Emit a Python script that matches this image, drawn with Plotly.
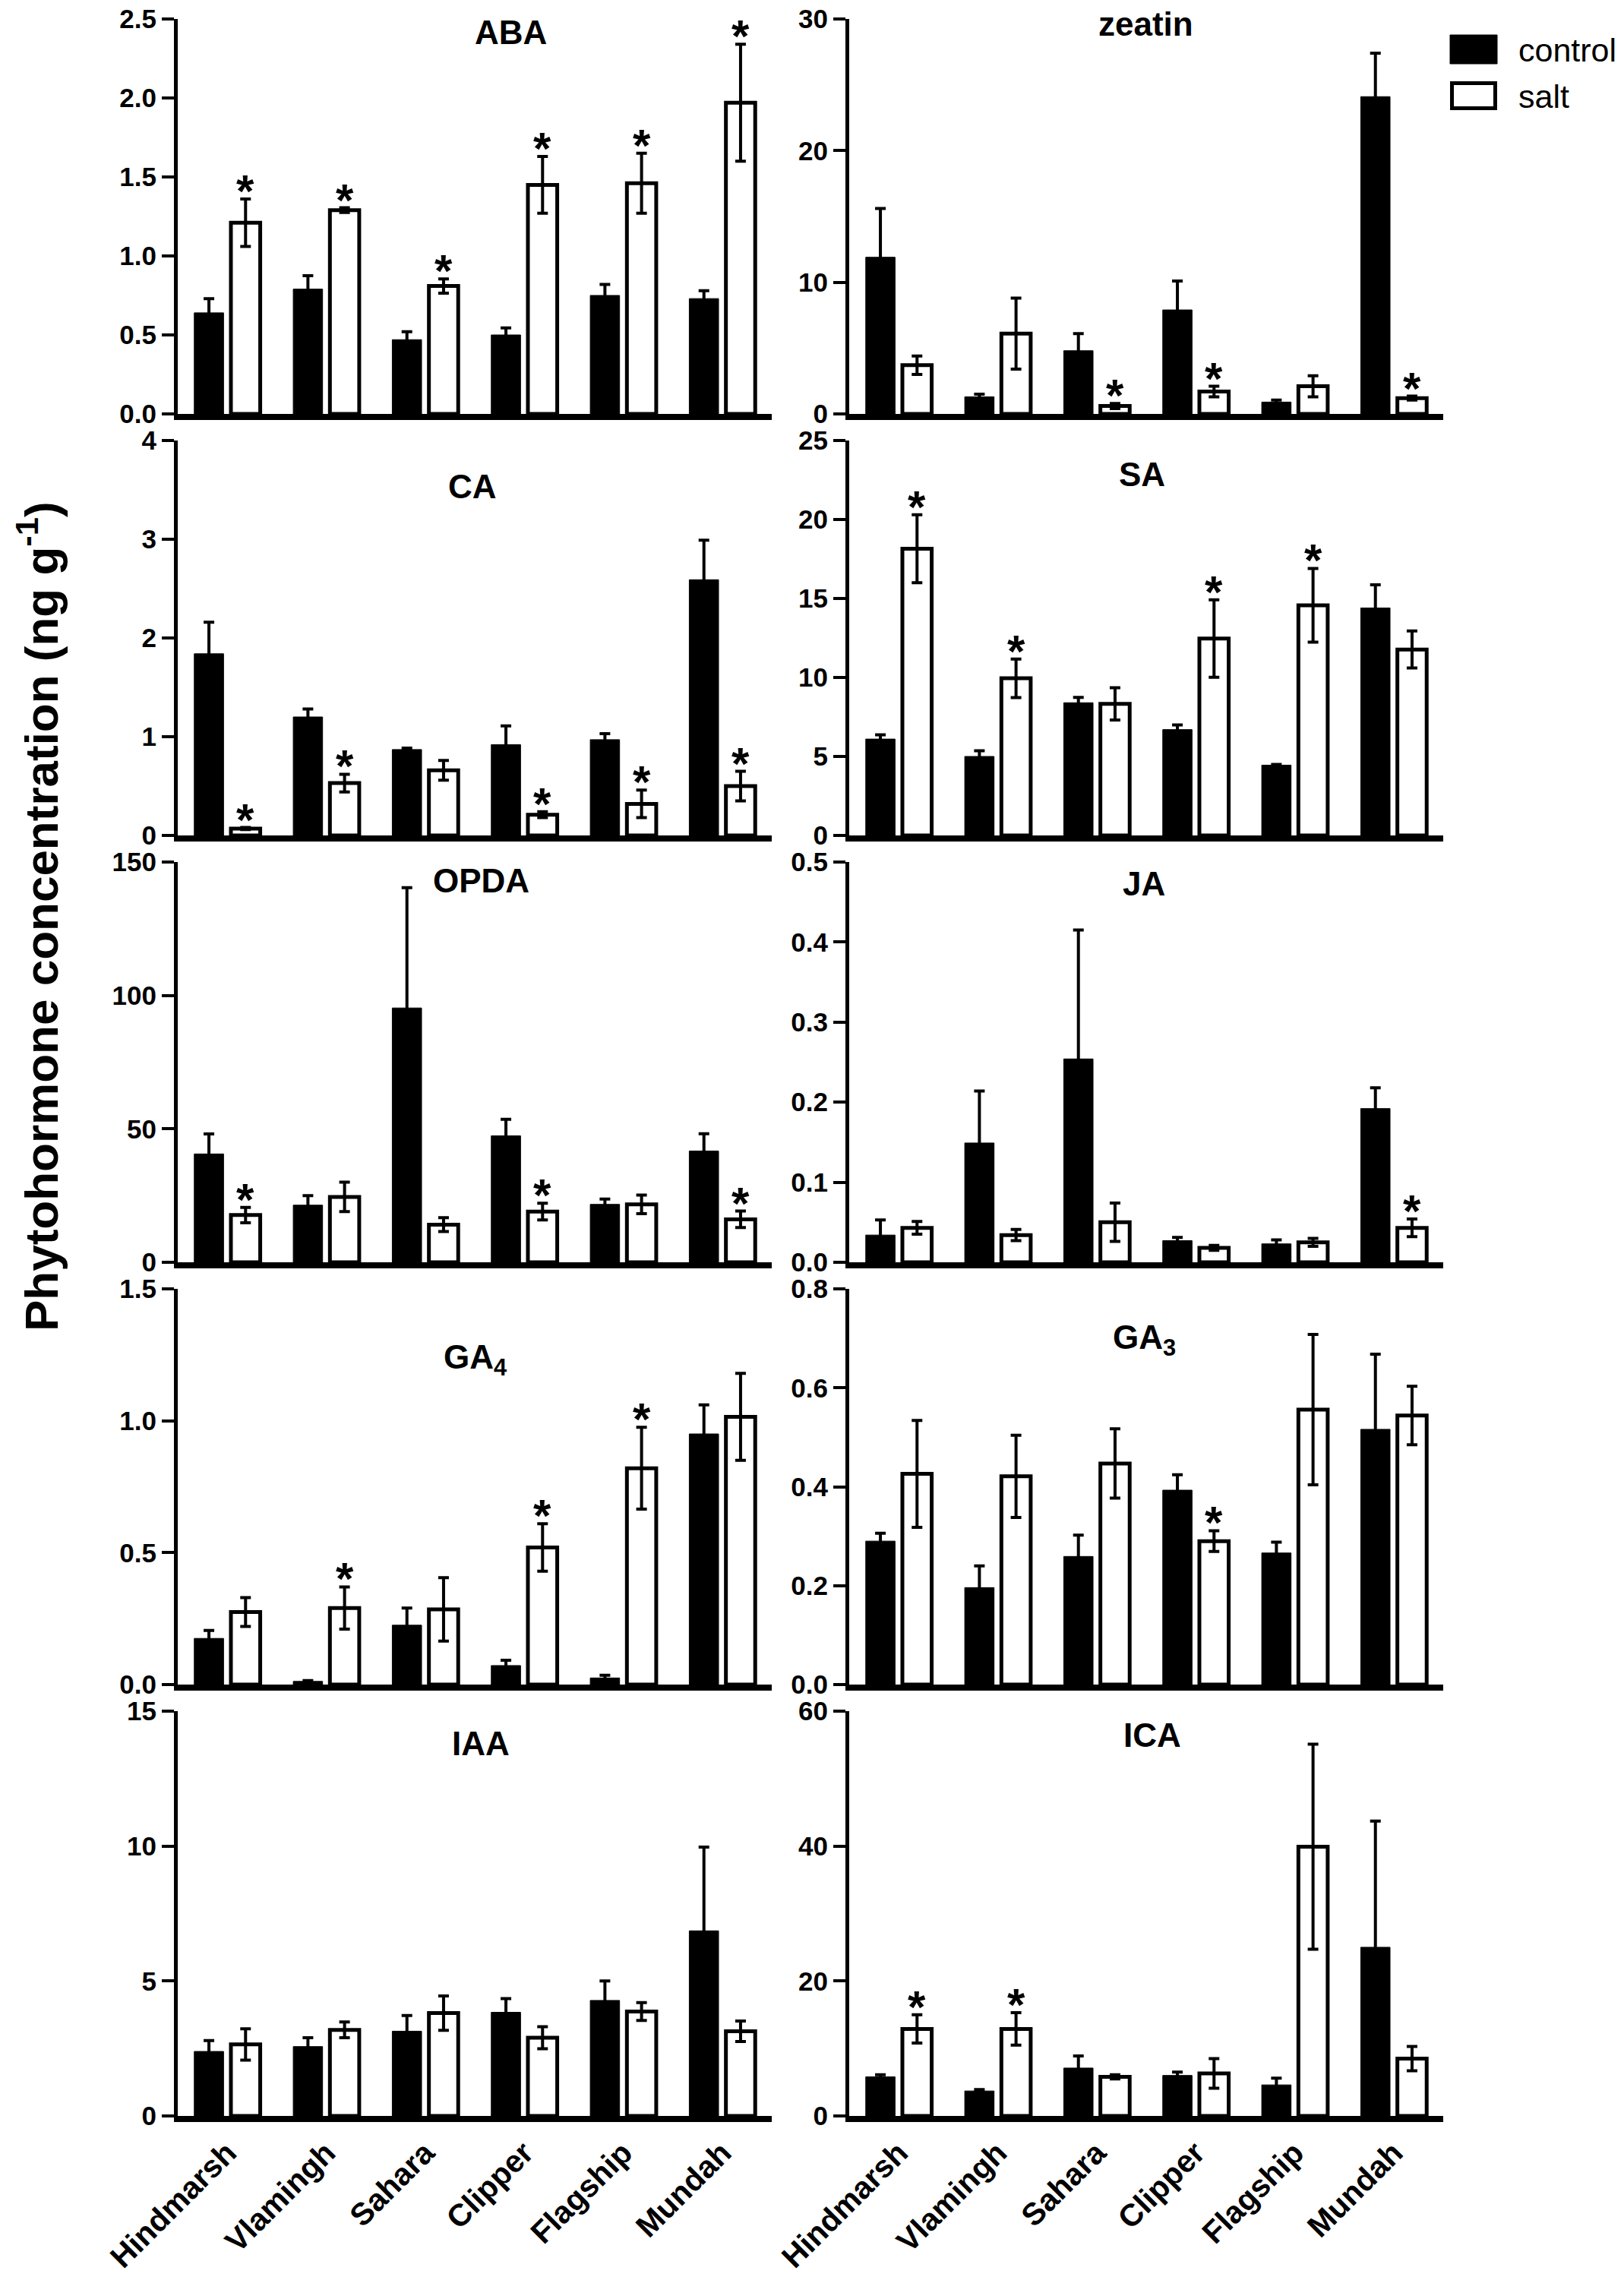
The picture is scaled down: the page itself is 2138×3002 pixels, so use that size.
import plotly.graph_objects as go

W, H = 2138, 3002

cultivars = ["Hindmarsh", "Vlamingh", "Sahara", "Clipper", "Flagship", "Mundah"]

# ---- data (mean, error) ----
aba_control = [0.64, 0.79, 0.47, 0.50, 0.75, 0.73]
aba_control_err = [0.09, 0.085, 0.05, 0.045, 0.07, 0.05]
aba_salt = [1.21, 1.29, 0.81, 1.45, 1.46, 1.97]
aba_salt_err = [0.15, 0.015, 0.045, 0.18, 0.19, 0.37]
aba_sig = [1, 1, 1, 1, 1, 1]

zeatin_control = [11.9, 1.3, 4.8, 7.9, 0.9, 24.1]
zeatin_control_err = [3.7, 0.2, 1.3, 2.2, 0.15, 3.3]
zeatin_salt = [3.7, 6.1, 0.6, 1.7, 2.1, 1.2]
zeatin_salt_err = [0.7, 2.7, 0.2, 0.4, 0.8, 0.15]
zeatin_sig = [0, 0, 1, 1, 0, 1]

ca_control = [1.84, 1.20, 0.87, 0.92, 0.97, 2.59]
ca_control_err = [0.32, 0.08, 0.015, 0.19, 0.06, 0.40]
ca_salt = [0.07, 0.53, 0.66, 0.21, 0.32, 0.50]
ca_salt_err = [0.01, 0.09, 0.10, 0.03, 0.14, 0.15]
ca_sig = [1, 1, 0, 1, 1, 1]

sa_control = [6.1, 5.0, 8.4, 6.7, 4.45, 14.4]
sa_control_err = [0.27, 0.36, 0.34, 0.3, 0.05, 1.47]
sa_salt = [18.15, 9.95, 8.33, 12.46, 14.57, 11.77]
sa_salt_err = [2.15, 1.22, 1.02, 2.45, 2.33, 1.17]
sa_sig = [1, 1, 0, 1, 1, 0]

opda_control = [40.6, 21.4, 95.3, 47.4, 21.7, 41.7]
opda_control_err = [7.5, 3.6, 45.1, 6.2, 2.0, 6.5]
opda_salt = [17.7, 24.5, 14.1, 19.0, 21.7, 16.1]
opda_salt_err = [2.9, 5.5, 2.6, 3.1, 3.5, 3.1]
opda_sig = [1, 0, 0, 1, 0, 1]

ja_control = [0.034, 0.149, 0.254, 0.027, 0.023, 0.192]
ja_control_err = [0.019, 0.065, 0.161, 0.004, 0.005, 0.026]
ja_salt = [0.043, 0.034, 0.050, 0.018, 0.025, 0.043]
ja_salt_err = [0.008, 0.007, 0.024, 0.003, 0.005, 0.011]
ja_sig = [0, 0, 0, 0, 0, 1]

ga4_control = [0.175, 0.012, 0.225, 0.072, 0.025, 0.95]
ga4_control_err = [0.03, 0.003, 0.065, 0.02, 0.01, 0.11]
ga4_salt = [0.275, 0.29, 0.285, 0.52, 0.82, 1.015]
ga4_salt_err = [0.055, 0.08, 0.12, 0.09, 0.155, 0.165]
ga4_sig = [0, 1, 0, 1, 1, 0]

ga3_control = [0.29, 0.196, 0.259, 0.393, 0.266, 0.516]
ga3_control_err = [0.016, 0.044, 0.043, 0.031, 0.022, 0.152]
ga3_salt = [0.426, 0.421, 0.447, 0.29, 0.556, 0.544]
ga3_salt_err = [0.108, 0.083, 0.07, 0.021, 0.152, 0.059]
ga3_sig = [0, 0, 0, 1, 0, 0]

iaa_control = [2.39, 2.57, 3.14, 3.84, 4.28, 6.86]
iaa_control_err = [0.4, 0.33, 0.58, 0.51, 0.72, 3.1]
iaa_salt = [2.65, 3.19, 3.81, 2.90, 3.87, 3.14]
iaa_salt_err = [0.58, 0.29, 0.64, 0.41, 0.33, 0.38]
iaa_sig = [0, 0, 0, 0, 0, 0]

ica_control = [5.8, 3.7, 7.1, 6.0, 4.6, 25.0]
ica_control_err = [0.3, 0.2, 1.8, 0.5, 1.0, 18.7]
ica_salt = [12.9, 12.9, 5.8, 6.3, 39.9, 8.5]
ica_salt_err = [2.1, 2.4, 0.3, 2.2, 15.2, 1.8]
ica_sig = [1, 1, 0, 0, 0, 0]

titles = ["ABA", "zeatin", "CA", "SA", "OPDA", "JA",
          "GA<sub>4</sub>", "GA<sub>3</sub>", "IAA", "ICA"]
y_max = [2.5, 30, 4, 25, 150, 0.5, 1.5, 0.8, 15, 60]
y_dtick = [0.5, 10, 1, 5, 50, 0.1, 0.5, 0.2, 5, 20]
y_fmt = [".1f", "d", "d", "d", "d", ".1f", ".1f", ".1f", "d", "d"]

panels = [
    (aba_control, aba_control_err, aba_salt, aba_salt_err, aba_sig),
    (zeatin_control, zeatin_control_err, zeatin_salt, zeatin_salt_err, zeatin_sig),
    (ca_control, ca_control_err, ca_salt, ca_salt_err, ca_sig),
    (sa_control, sa_control_err, sa_salt, sa_salt_err, sa_sig),
    (opda_control, opda_control_err, opda_salt, opda_salt_err, opda_sig),
    (ja_control, ja_control_err, ja_salt, ja_salt_err, ja_sig),
    (ga4_control, ga4_control_err, ga4_salt, ga4_salt_err, ga4_sig),
    (ga3_control, ga3_control_err, ga3_salt, ga3_salt_err, ga3_sig),
    (iaa_control, iaa_control_err, iaa_salt, iaa_salt_err, iaa_sig),
    (ica_control, ica_control_err, ica_salt, ica_salt_err, ica_sig),
]

# ---- layout geometry (pixels) ----
col_x = [(234, 1016), (1118, 1900)]
row_y = [(25, 545), (580, 1100), (1135, 1662), (1697, 2218), (2253, 2786)]
title_pos = [(672, 42), (1508, 31), (622, 640), (1503, 625), (633, 1159),
             (1506, 1163), (625, 1790), (1506, 1764), (633, 2295), (1517, 2284)]

BARGAP = 0.26
cat_px = (col_x[0][1] - col_x[0][0]) / len(cultivars)
salt_shift = 0.25 * (1 - BARGAP) * cat_px

FAM = "Liberation Sans, Arial, sans-serif"
TICKFONT = dict(family=FAM, size=35, color="black", weight="bold")

fig = go.Figure()
annotations = []
layout_axes = {}

for k, (ctl, ctl_e, slt, slt_e, sig) in enumerate(panels):
    n = k + 1
    r, c = divmod(k, 2)
    xs = "x" if n == 1 else f"x{n}"
    ys = "y" if n == 1 else f"y{n}"
    fig.add_trace(go.Bar(
        x=cultivars, y=ctl, name="control", xaxis=xs, yaxis=ys,
        marker=dict(color="black", line=dict(color="black", width=1)),
        error_y=dict(type="data", array=ctl_e, visible=True, color="black",
                     thickness=4, width=7),
        showlegend=False,
    ))
    fig.add_trace(go.Bar(
        x=cultivars, y=slt, name="salt", xaxis=xs, yaxis=ys,
        marker=dict(color="white", line=dict(color="black", width=5)),
        error_y=dict(type="data", array=slt_e, visible=True, color="black",
                     thickness=4, width=7),
        showlegend=False,
    ))
    x0, x1 = col_x[c]
    yt, yb = row_y[r]
    xa = dict(domain=[x0 / W, x1 / W], anchor=ys, type="category",
              categoryorder="array", categoryarray=cultivars,
              range=[-0.5, len(cultivars) - 0.5], automargin=False,
              showline=True, linewidth=8, linecolor="black", ticks="",
              showgrid=False, zeroline=False, fixedrange=True,
              showticklabels=(r == 4), tickangle=-45,
              tickfont=dict(family=FAM, size=41, color="black", weight="bold"))
    ya = dict(domain=[1 - yb / H, 1 - yt / H], anchor=xs, automargin=False,
              range=[0, y_max[k]], tick0=0, dtick=y_dtick[k], tickformat=y_fmt[k],
              showline=True, linewidth=5, linecolor="black",
              ticks="outside", ticklen=16, tickwidth=4, tickcolor="black",
              showgrid=False, zeroline=False, fixedrange=True, tickfont=TICKFONT)
    layout_axes["xaxis" if n == 1 else f"xaxis{n}"] = xa
    layout_axes["yaxis" if n == 1 else f"yaxis{n}"] = ya

    tx, ty = title_pos[k]
    annotations.append(dict(
        text=titles[k], x=tx / W, y=1 - ty / H, xref="paper", yref="paper",
        xanchor="center", yanchor="middle", showarrow=False,
        font=dict(family=FAM, size=44, color="black", weight="bold")))

    for i, s in enumerate(sig):
        if s:
            annotations.append(dict(
                text="*", x=cultivars[i], y=slt[i] + slt_e[i], xref=xs, yref=ys,
                xanchor="center", yanchor="bottom", xshift=salt_shift, yshift=-25,
                showarrow=False,
                font=dict(family=FAM, size=60, color="black", weight="bold")))

# y-axis title
annotations.append(dict(
    text="Phytohormone concentration (ng g<sup>-1</sup>)",
    x=50 / W, y=1 - 1207 / H, xref="paper", yref="paper",
    xanchor="center", yanchor="middle", textangle=-90, showarrow=False,
    font=dict(family=FAM, size=62, color="black", weight="bold")))

# legend (drawn)
shapes = [
    dict(type="rect", xref="paper", yref="paper",
         x0=1909 / W, x1=1971 / W, y0=1 - 84 / H, y1=1 - 46 / H,
         fillcolor="black", line=dict(color="black", width=1)),
    dict(type="rect", xref="paper", yref="paper",
         x0=1911.5 / W, x1=1968.5 / W, y0=1 - 142.5 / H, y1=1 - 109.5 / H,
         fillcolor="white", line=dict(color="black", width=5)),
]
for label, yc in [("control", 66), ("salt", 127)]:
    annotations.append(dict(
        text=label, x=1997 / W, y=1 - yc / H, xref="paper", yref="paper",
        xanchor="left", yanchor="middle", showarrow=False,
        font=dict(family=FAM, size=43, color="black")))

fig.update_layout(
    width=W, height=H, autosize=False,
    margin=dict(l=0, r=0, t=0, b=0, pad=0),
    paper_bgcolor="white", plot_bgcolor="white",
    barmode="group", bargap=BARGAP, bargroupgap=0.2,
    showlegend=False,
    font=dict(family=FAM, color="black"),
    annotations=annotations, shapes=shapes,
    **layout_axes,
)

fig.write_html(
    "out.html",
    config={"displayModeBar": False, "staticPlot": True},
    post_script="document.body.style.margin='0';document.body.style.overflow='hidden';",
)
